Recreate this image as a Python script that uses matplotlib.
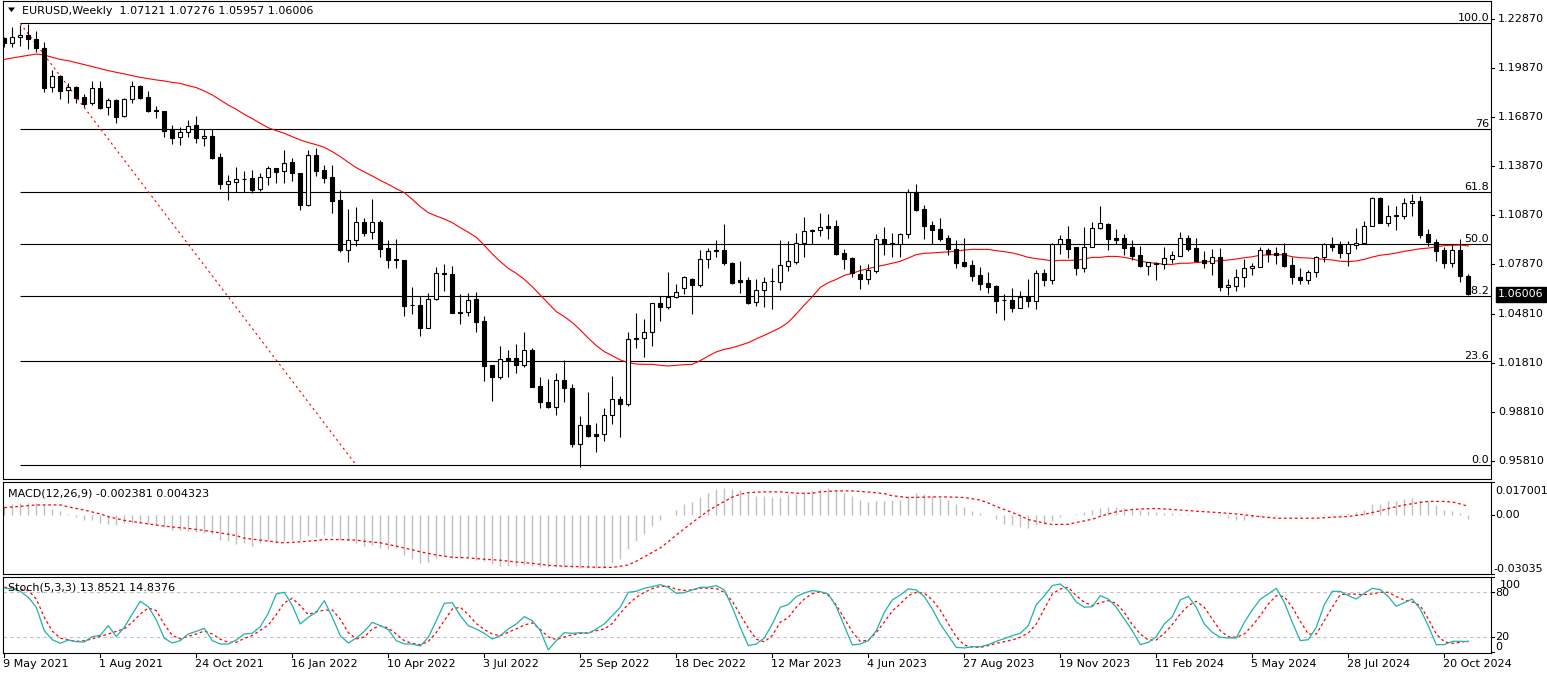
import matplotlib
matplotlib.use("Agg")
import matplotlib.pyplot as plt
from matplotlib.patches import Rectangle, Polygon
from matplotlib.transforms import blended_transform_factory
import numpy as np

plt.rcParams['font.family'] = ['DejaVu Sans']
plt.rcParams['font.size'] = 8

# ---------------- data (weekly bars, 9 May 2021 .. 10 Nov 2024) ----------------
opens = [
    1.2174, 1.2144, 1.2178, 1.2191, 1.2164, 1.2109, 1.1871, 1.1939, 1.1852, 1.1871,
    1.1808, 1.1776, 1.1864, 1.1747, 1.1792, 1.1695, 1.1796, 1.1880, 1.1808, 1.1733,
    1.1722, 1.1612, 1.1563, 1.1594, 1.1639, 1.1557, 1.1571, 1.1442, 1.1275, 1.1291,
    1.1309, 1.1312, 1.1244, 1.1322, 1.1373, 1.1357, 1.1410, 1.1342, 1.1150, 1.1453,
    1.1363, 1.1318, 1.1179, 1.0870, 1.0932, 1.1042, 1.0981, 1.1044, 1.0882, 1.0817,
    1.0809, 1.0537, 1.0535, 1.0396, 1.0570, 1.0729, 1.0725, 1.0492, 1.0490, 1.0572,
    1.0437, 1.0167, 1.0096, 1.0208, 1.0208, 1.0169, 1.0259, 1.0038, 0.9938, 0.9907,
    1.0075, 1.0024, 0.9685, 0.9797, 0.9742, 0.9742, 0.9859, 0.9959, 0.9930, 1.0329,
    1.0331, 1.0367, 1.0545, 1.0521, 1.0582, 1.0637, 1.0692, 1.0658, 1.0820, 1.0866,
    1.0872, 1.0794, 1.0686, 1.0688, 1.0552, 1.0625, 1.0680, 1.0678, 1.0776, 1.0801,
    1.0913, 1.0991, 1.0993, 1.1017, 1.1019, 1.0854, 1.0822, 1.0725, 1.0696, 1.0746,
    1.0940, 1.0913, 1.0907, 1.0968, 1.1226, 1.1125, 1.1025, 1.0999, 1.0944, 1.0878,
    1.0799, 1.0778, 1.0717, 1.0668, 1.0652, 1.0568, 1.0566, 1.0519, 1.0586, 1.0562,
    1.0729, 1.0688, 1.0907, 1.0938, 1.0888, 1.0764, 1.0892, 1.1009, 1.1032, 1.0944,
    1.0944, 1.0890, 1.0839, 1.0776, 1.0793, 1.0784, 1.0819, 1.0837, 1.0944, 1.0882,
    1.0811, 1.0790, 1.0827, 1.0643, 1.0654, 1.0705, 1.0760, 1.0770, 1.0870, 1.0852,
    1.0852, 1.0778, 1.0705, 1.0686, 1.0735, 1.0827, 1.0907, 1.0903, 1.0852, 1.0905,
    1.0913, 1.1021, 1.1189, 1.1040, 1.1083, 1.1083, 1.1158, 1.1173, 1.0968, 1.0923,
    1.0872, 1.0793, 1.0872, 1.07121]
highs = [
    1.2181, 1.2242, 1.2252, 1.2258, 1.2215, 1.2146, 1.1976, 1.1945, 1.1894, 1.1879,
    1.1829, 1.1909, 1.1909, 1.1802, 1.1798, 1.1806, 1.1909, 1.1882, 1.1848, 1.1757,
    1.1724, 1.1639, 1.1625, 1.1670, 1.1695, 1.1612, 1.1612, 1.1465, 1.1332, 1.1379,
    1.1357, 1.1363, 1.1342, 1.1387, 1.1377, 1.1486, 1.1434, 1.1344, 1.1486, 1.1500,
    1.1393, 1.1393, 1.1240, 1.1122, 1.1134, 1.1068, 1.1185, 1.1056, 1.0934, 1.0938,
    1.0811, 1.0643, 1.0592, 1.0607, 1.0770, 1.0786, 1.0776, 1.0600, 1.0607, 1.0615,
    1.0470, 1.0169, 1.0284, 1.0259, 1.0296, 1.0369, 1.0273, 1.0096, 1.0081, 1.0120,
    1.0198, 1.0050, 0.9854, 1.0004, 0.9809, 0.9901, 1.0100, 0.9977, 1.0369, 1.0484,
    1.0449, 1.0550, 1.0592, 1.0737, 1.0664, 1.0713, 1.0703, 1.0872, 1.0887, 1.0934,
    1.1032, 1.0799, 1.0805, 1.0709, 1.0692, 1.0709, 1.0764, 1.0934, 1.0927, 1.0975,
    1.1075, 1.1001, 1.1098, 1.1093, 1.1056, 1.0876, 1.0831, 1.0780, 1.0786, 1.0971,
    1.1013, 1.0977, 1.0975, 1.1246, 1.1276, 1.1149, 1.1050, 1.1066, 1.0964, 1.0934,
    1.0946, 1.0811, 1.0766, 1.0735, 1.0658, 1.0600, 1.0639, 1.0621, 1.0694, 1.0750,
    1.0756, 1.0917, 1.0964, 1.1019, 1.0892, 1.1013, 1.1044, 1.1142, 1.1040, 1.1001,
    1.0968, 1.0934, 1.0897, 1.0801, 1.0801, 1.0890, 1.0866, 1.0983, 1.0964, 1.0944,
    1.0866, 1.0878, 1.0882, 1.0692, 1.0754, 1.0817, 1.0790, 1.0892, 1.0882, 1.0888,
    1.0913, 1.0827, 1.0760, 1.0750, 1.0837, 1.0913, 1.0950, 1.0930, 1.0930, 1.1005,
    1.1050, 1.1199, 1.1199, 1.1149, 1.1145, 1.1189, 1.1214, 1.1204, 1.1001, 1.0938,
    1.0888, 1.0903, 1.0938, 1.07276]
lows = [
    1.2119, 1.2119, 1.2125, 1.2103, 1.2089, 1.1843, 1.1843, 1.1798, 1.1776, 1.1772,
    1.1751, 1.1761, 1.1737, 1.1700, 1.1649, 1.1690, 1.1776, 1.1798, 1.1720, 1.1680,
    1.1563, 1.1521, 1.1516, 1.1568, 1.1530, 1.1512, 1.1433, 1.1248, 1.1179, 1.1226,
    1.1226, 1.1220, 1.1236, 1.1271, 1.1281, 1.1281, 1.1294, 1.1118, 1.1144, 1.1326,
    1.1281, 1.1101, 1.0862, 1.0801, 1.0899, 1.0960, 1.0940, 1.0831, 1.0760, 1.0760,
    1.0470, 1.0480, 1.0347, 1.0392, 1.0566, 1.0623, 1.0484, 1.0419, 1.0470, 1.0367,
    1.0071, 0.9948, 1.0079, 1.0096, 1.0120, 1.0157, 1.0030, 0.9901, 0.9903, 0.9862,
    0.9942, 0.9666, 0.9540, 0.9728, 0.9631, 0.9703, 0.9805, 0.9728, 0.9918, 1.0270,
    1.0218, 1.0282, 1.0439, 1.0509, 1.0576, 1.0603, 1.0480, 1.0648, 1.0764, 1.0831,
    1.0780, 1.0664, 1.0611, 1.0539, 1.0529, 1.0525, 1.0511, 1.0627, 1.0746, 1.0786,
    1.0831, 1.0909, 1.0958, 1.0940, 1.0842, 1.0758, 1.0705, 1.0633, 1.0664, 1.0733,
    1.0842, 1.0829, 1.0831, 1.0944, 1.1109, 1.0940, 1.0907, 1.0930, 1.0842, 1.0764,
    1.0770, 1.0682, 1.0627, 1.0611, 1.0488, 1.0443, 1.0494, 1.0515, 1.0521, 1.0511,
    1.0652, 1.0664, 1.0848, 1.0825, 1.0719, 1.0737, 1.0888, 1.1001, 1.0872, 1.0907,
    1.0842, 1.0813, 1.0770, 1.0719, 1.0688, 1.0756, 1.0790, 1.0835, 1.0866, 1.0805,
    1.0764, 1.0719, 1.0623, 1.0596, 1.0623, 1.0648, 1.0719, 1.0766, 1.0801, 1.0786,
    1.0766, 1.0664, 1.0664, 1.0664, 1.0709, 1.0801, 1.0866, 1.0821, 1.0776, 1.0878,
    1.0907, 1.1019, 1.1036, 1.1019, 1.0995, 1.1062, 1.1081, 1.0948, 1.0899, 1.0807,
    1.0760, 1.0766, 1.0678, 1.05957]
closes = [
    1.2144, 1.2178, 1.2193, 1.2164, 1.2109, 1.1868, 1.1938, 1.1850, 1.1871, 1.1806,
    1.1770, 1.1864, 1.1746, 1.1792, 1.1690, 1.1798, 1.1880, 1.1806, 1.1727, 1.1724,
    1.1604, 1.1561, 1.1594, 1.1635, 1.1557, 1.1571, 1.1438, 1.1275, 1.1293, 1.1305,
    1.1305, 1.1240, 1.1322, 1.1373, 1.1352, 1.1408, 1.1342, 1.1150, 1.1453, 1.1359,
    1.1316, 1.1175, 1.0874, 1.0934, 1.1042, 1.0979, 1.1042, 1.0880, 1.0811, 1.0809,
    1.0531, 1.0533, 1.0396, 1.0570, 1.0729, 1.0725, 1.0488, 1.0488, 1.0566, 1.0433,
    1.0163, 1.0096, 1.0202, 1.0198, 1.0169, 1.0259, 1.0034, 0.9938, 0.9907, 1.0075,
    1.0024, 0.9685, 0.9797, 0.9734, 0.9734, 0.9859, 0.9957, 0.9930, 1.0325, 1.0333,
    1.0367, 1.0545, 1.0521, 1.0586, 1.0613, 1.0707, 1.0660, 1.0820, 1.0864, 1.0874,
    1.0790, 1.0672, 1.0678, 1.0550, 1.0625, 1.0678, 1.0684, 1.0778, 1.0805, 1.0913,
    1.0989, 1.0997, 1.1011, 1.1009, 1.0848, 1.0817, 1.0729, 1.0694, 1.0750, 1.0940,
    1.0909, 1.0909, 1.0968, 1.1226, 1.1118, 1.1022, 1.0997, 1.0942, 1.0876, 1.0794,
    1.0776, 1.0715, 1.0664, 1.0648, 1.0562, 1.0564, 1.0519, 1.0586, 1.0562, 1.0729,
    1.0688, 1.0907, 1.0938, 1.0880, 1.0764, 1.0892, 1.1009, 1.1036, 1.0940, 1.0936,
    1.0886, 1.0835, 1.0774, 1.0797, 1.0788, 1.0821, 1.0839, 1.0944, 1.0880, 1.0807,
    1.0793, 1.0827, 1.0643, 1.0656, 1.0705, 1.0760, 1.0774, 1.0870, 1.0848, 1.0842,
    1.0774, 1.0705, 1.0686, 1.0735, 1.0827, 1.0907, 1.0892, 1.0852, 1.0907, 1.0915,
    1.1021, 1.1189, 1.1040, 1.1083, 1.1087, 1.1158, 1.1173, 1.0964, 1.0923, 1.0868,
    1.0793, 1.0872, 1.0713, 1.06006]

# moving average (red line), one value per bar
ma_vals = [
    1.2041, 1.2050, 1.2058, 1.2066, 1.2074, 1.2068, 1.2054, 1.2041, 1.2033, 1.2021,
    1.2009, 1.1997, 1.1984, 1.1972, 1.1962, 1.1952, 1.1941, 1.1931, 1.1923, 1.1915,
    1.1909, 1.1900, 1.1894, 1.1880, 1.1868, 1.1847, 1.1823, 1.1792, 1.1761, 1.1735,
    1.1704, 1.1678, 1.1649, 1.1622, 1.1604, 1.1588, 1.1567, 1.1547, 1.1531, 1.1518,
    1.1502, 1.1475, 1.1445, 1.1410, 1.1377, 1.1351, 1.1326, 1.1299, 1.1275, 1.1248,
    1.1224, 1.1183, 1.1138, 1.1101, 1.1081, 1.1062, 1.1040, 1.1009, 1.0981, 1.0950,
    1.0901, 1.0848, 1.0801, 1.0760, 1.0729, 1.0692, 1.0647, 1.0596, 1.0545, 1.0494,
    1.0464, 1.0427, 1.0382, 1.0331, 1.0286, 1.0249, 1.0224, 1.0198, 1.0181, 1.0173,
    1.0171, 1.0171, 1.0165, 1.0161, 1.0165, 1.0169, 1.0171, 1.0194, 1.0222, 1.0247,
    1.0263, 1.0273, 1.0288, 1.0304, 1.0327, 1.0349, 1.0372, 1.0396, 1.0429, 1.0480,
    1.0535, 1.0586, 1.0643, 1.0672, 1.0692, 1.0717, 1.0729, 1.0746, 1.0758, 1.0770,
    1.0780, 1.0791, 1.0803, 1.0823, 1.0844, 1.0852, 1.0854, 1.0858, 1.0860, 1.0866,
    1.0872, 1.0876, 1.0876, 1.0876, 1.0868, 1.0862, 1.0854, 1.0842, 1.0827, 1.0819,
    1.0813, 1.0805, 1.0809, 1.0809, 1.0809, 1.0817, 1.0827, 1.0827, 1.0833, 1.0833,
    1.0827, 1.0817, 1.0805, 1.0795, 1.0791, 1.0784, 1.0784, 1.0791, 1.0791, 1.0795,
    1.0799, 1.0803, 1.0807, 1.0811, 1.0817, 1.0825, 1.0831, 1.0840, 1.0842, 1.0844,
    1.0842, 1.0831, 1.0825, 1.0823, 1.0819, 1.0815, 1.0811, 1.0803, 1.0801, 1.0805,
    1.0815, 1.0829, 1.0840, 1.0846, 1.0854, 1.0864, 1.0872, 1.0880, 1.0884, 1.0892,
    1.0899, 1.0901, 1.0903, 1.0897]

# Fibonacci retracement
fib_levels = ["0.0", "23.6", "38.2", "50.0", "61.8", "76", "100.0"]
fib_prices = [0.9552, 1.0194, 1.0590, 1.0907, 1.1226, 1.1612, 1.2262]
fib_anchor_bars = [2, 44]
fib_anchor_prices = [1.2262, 0.9552]

# MACD(12,26,9)
macd_hist = [
    0.0043, 0.0053, 0.0060, 0.0060, 0.0060, 0.0050, 0.0027, 0.0019, 0.0002, -0.0010,
    -0.0026, -0.0029, -0.0041, -0.0050, -0.0055, -0.0043, -0.0041, -0.0041, -0.0050, -0.0055,
    -0.0062, -0.0076, -0.0079, -0.0084, -0.0086, -0.0093, -0.0101, -0.0127, -0.0136, -0.0148,
    -0.0144, -0.0161, -0.0144, -0.0136, -0.0146, -0.0136, -0.0130, -0.0130, -0.0110, -0.0115,
    -0.0105, -0.0110, -0.0127, -0.0136, -0.0144, -0.0161, -0.0153, -0.0170, -0.0178, -0.0170,
    -0.0208, -0.0225, -0.0247, -0.0242, -0.0221, -0.0213, -0.0221, -0.0221, -0.0216, -0.0230,
    -0.0235, -0.0252, -0.0261, -0.0261, -0.0261, -0.0259, -0.0264, -0.0266, -0.0269, -0.0269,
    -0.0269, -0.0273, -0.0275, -0.0275, -0.0275, -0.0273, -0.0247, -0.0225, -0.0178, -0.0136,
    -0.0101, -0.0060, -0.0029, -0.0003, 0.0022, 0.0053, 0.0067, 0.0093, 0.0113, 0.0134,
    0.0139, 0.0130, 0.0125, 0.0113, 0.0098, 0.0098, 0.0093, 0.0093, 0.0105, 0.0108,
    0.0113, 0.0129, 0.0134, 0.0139, 0.0129, 0.0113, 0.0098, 0.0077, 0.0067, 0.0072,
    0.0072, 0.0074, 0.0077, 0.0098, 0.0110, 0.0105, 0.0096, 0.0088, 0.0077, 0.0057,
    0.0041, 0.0021, 0.0007, 0.0001, -0.0024, -0.0045, -0.0054, -0.0063, -0.0068, -0.0054,
    -0.0045, -0.0032, -0.0014, -0.0002, 0.0005, 0.0013, 0.0023, 0.0036, 0.0041, 0.0041,
    0.0036, 0.0030, 0.0023, 0.0018, 0.0014, 0.0011, 0.0007, 0.0004, 0.0002, 0.0000,
    0.0000, 0.0000, -0.0005, -0.0018, -0.0027, -0.0027, -0.0018, -0.0011, -0.0007, -0.0005,
    -0.0004, -0.0004, -0.0005, -0.0004, -0.0002, 0.0002, 0.0005, 0.0005, 0.0011, 0.0013,
    0.0023, 0.0054, 0.0057, 0.0068, 0.0072, 0.0079, 0.0086, 0.0075, 0.0072, 0.0050,
    0.0023, 0.0018, 0.0009, -0.002381]
macd_sig_bars = [
    0, 2, 4, 7, 8, 10, 12, 13, 15, 17, 19, 21, 23, 25, 27, 29, 30, 32, 34, 35,
    37, 39, 40, 42, 44, 45, 47, 49, 51, 52, 54, 56, 58, 60, 62, 64, 66, 68, 70, 72,
    74, 76, 78, 79, 80, 81, 82, 83, 84, 85, 86, 87, 88, 89, 90, 91, 92, 93, 95, 97,
    99, 101, 102, 104, 106, 108, 110, 111, 113, 116, 118, 120, 122, 123, 124, 126, 127, 128, 130, 131,
    133, 134, 136, 137, 139, 141, 144, 146, 149, 151, 154, 157, 159, 162, 164, 166, 168, 170, 172, 173,
    175, 177, 178, 180, 181, 182, 183]
macd_sig_vals = [
    0.0036, 0.0043, 0.0050, 0.0050, 0.0040, 0.0024, 0.0004, -0.0010, -0.0029, -0.0041,
    -0.0053, -0.0063, -0.0070, -0.0081, -0.0093, -0.0107, -0.0120, -0.0130, -0.0140, -0.0144,
    -0.0139, -0.0132, -0.0127, -0.0127, -0.0130, -0.0136, -0.0144, -0.0161, -0.0180, -0.0190,
    -0.0206, -0.0218, -0.0221, -0.0228, -0.0233, -0.0242, -0.0249, -0.0259, -0.0264, -0.0266,
    -0.0269, -0.0270, -0.0257, -0.0238, -0.0215, -0.0193, -0.0170, -0.0138, -0.0104, -0.0072,
    -0.0040, -0.0010, 0.0020, 0.0045, 0.0068, 0.0090, 0.0105, 0.0113, 0.0117, 0.0117,
    0.0110, 0.0110, 0.0117, 0.0122, 0.0122, 0.0116, 0.0108, 0.0097, 0.0088, 0.0091,
    0.0091, 0.0088, 0.0075, 0.0060, 0.0042, 0.0011, -0.0005, -0.0025, -0.0043, -0.0050,
    -0.0049, -0.0040, -0.0023, -0.0008, 0.0015, 0.0027, 0.0032, 0.0027, 0.0018, 0.0013,
    0.0004, -0.0010, -0.0018, -0.0018, -0.0018, -0.0013, -0.0009, 0.0002, 0.0020, 0.0032,
    0.0050, 0.0063, 0.0068, 0.0068, 0.0065, 0.0055, 0.004323]

# Stochastic(5,3,3)
stoch_main = [
    85.8, 84.5, 81.4, 73.3, 59.9, 28.5, 16.4, 11.5, 16.0, 13.7,
    13.3, 20.5, 22.3, 35.2, 20.5, 33.0, 50.9, 67.9, 60.8, 42.9,
    18.3, 12.0, 15.1, 24.1, 27.6, 31.7, 15.1, 10.6, 10.6, 16.0,
    24.1, 25.0, 33.9, 51.8, 77.8, 80.0, 62.2, 37.5, 46.5, 53.2,
    68.8, 46.5, 21.8, 12.0, 18.7, 27.6, 39.7, 35.2, 29.9, 15.1,
    10.6, 10.6, 7.9, 19.6, 42.0, 65.3, 66.1, 48.7, 35.2, 30.7,
    24.9, 17.3, 21.8, 30.8, 37.5, 47.3, 42.0, 28.5, 2.6, 15.1,
    25.8, 24.9, 25.8, 24.9, 30.8, 37.5, 48.7, 59.9, 80.0, 81.4,
    85.4, 87.6, 90.3, 86.7, 78.7, 79.6, 83.2, 86.7, 86.7, 89.0,
    83.2, 59.9, 33.0, 8.4, 10.6, 18.7, 37.5, 59.9, 63.5, 74.2,
    79.1, 82.3, 80.9, 77.8, 60.8, 35.2, 9.3, 10.6, 15.1, 28.5,
    53.1, 69.7, 76.4, 84.5, 83.2, 74.2, 57.6, 37.5, 21.8, 6.1,
    5.3, 7.0, 7.0, 9.7, 14.2, 17.8, 21.8, 24.9, 35.2, 63.4,
    75.1, 89.0, 91.2, 82.2, 67.0, 59.9, 60.7, 75.5, 71.0, 59.9,
    44.2, 28.5, 9.7, 12.8, 20.4, 37.5, 47.3, 69.7, 74.6, 59.9,
    37.5, 26.3, 19.6, 18.7, 18.7, 39.7, 56.3, 70.6, 77.8, 85.4,
    66.6, 39.7, 15.1, 16.4, 33.0, 63.4, 81.3, 81.3, 75.5, 71.0,
    78.7, 85.4, 83.6, 74.2, 61.2, 66.1, 71.0, 57.2, 35.2, 9.7,
    9.7, 14.2, 14.2, 13.8521]
stoch_signal = [
    86.7, 85.8, 84.0, 82.3, 71.0, 46.4, 28.0, 18.5, 16.0, 14.2,
    15.0, 17.5, 21.0, 24.0, 27.6, 31.0, 40.0, 50.9, 59.0, 55.4,
    37.0, 22.0, 17.5, 21.0, 24.0, 28.0, 24.0, 17.0, 12.9, 12.9,
    18.0, 22.0, 29.0, 36.0, 50.0, 66.0, 72.0, 62.1, 50.0, 54.0,
    56.0, 56.3, 44.0, 26.0, 17.5, 20.0, 30.8, 35.2, 32.0, 24.0,
    15.0, 11.5, 9.5, 14.0, 26.0, 42.0, 57.6, 60.0, 50.0, 38.0,
    30.0, 24.0, 21.8, 26.3, 31.0, 36.0, 39.0, 30.0, 20.0, 16.5,
    20.0, 23.0, 24.9, 25.8, 28.5, 30.8, 38.0, 52.0, 64.0, 73.3,
    80.0, 85.0, 88.0, 88.0, 84.0, 82.5, 83.2, 85.4, 85.6, 85.0,
    80.0, 68.0, 50.0, 32.0, 17.0, 13.5, 22.0, 40.0, 46.0, 59.9,
    71.0, 78.0, 81.0, 76.0, 63.0, 45.0, 27.0, 14.0, 16.0, 26.0,
    40.0, 55.0, 64.4, 75.5, 80.0, 78.7, 70.0, 56.0, 38.0, 20.0,
    9.0, 6.5, 6.1, 8.4, 11.5, 13.7, 16.0, 19.6, 25.4, 37.5,
    57.6, 77.8, 84.5, 86.7, 75.5, 66.6, 62.1, 66.1, 68.8, 65.2,
    53.1, 36.6, 24.0, 16.0, 16.0, 24.9, 36.6, 50.9, 62.1, 67.9,
    59.9, 44.2, 28.5, 20.4, 19.6, 24.0, 35.2, 48.7, 64.3, 75.5,
    74.2, 59.9, 41.0, 24.0, 24.0, 42.0, 59.9, 76.9, 77.8, 77.3,
    76.9, 77.8, 80.0, 80.0, 74.2, 69.7, 67.0, 62.1, 44.2, 24.0,
    13.7, 11.5, 12.8, 14.8376]
stoch_levels = [20, 80]

# axis labels
date_tick_bars = [0, 12, 24, 36, 48, 60, 72, 84, 96, 108, 120, 132, 144, 156, 168, 180]
date_tick_labels = ["9 May 2021", "1 Aug 2021", "24 Oct 2021", "16 Jan 2022", "10 Apr 2022",
                    "3 Jul 2022", "25 Sep 2022", "18 Dec 2022", "12 Mar 2023", "4 Jun 2023",
                    "27 Aug 2023", "19 Nov 2023", "11 Feb 2024", "5 May 2024", "28 Jul 2024",
                    "20 Oct 2024"]
price_ticks = [1.22870, 1.19870, 1.16870, 1.13870, 1.10870, 1.07870, 1.04810, 1.01810, 0.98810, 0.95810]
macd_axis_labels = ["0.017001", "0.00", "-0.03035"]
macd_axis_values = [0.017001, 0.0, -0.03035]
last_price = 1.06006
title_text = "EURUSD,Weekly  1.07121 1.07276 1.05957 1.06006"
macd_text = "MACD(12,26,9) -0.002381 0.004323"
stoch_text = "Stoch(5,3,3) 13.8521 14.8376"

# ---------------- layout ----------------
W, H = 1547, 676
fig = plt.figure(figsize=(W / 100, H / 100), dpi=100)
fig.patch.set_facecolor("white")


def rect(l, t, r, b):
    return [l / W, 1 - b / H, (r - l) / W, (b - t) / H]


def fx(x):
    return x / W


def fy(y):
    return 1 - y / H


XMIN, XMAX = -0.1625, 185.84
SP = 0.8

ax = fig.add_axes(rect(3, 0.5, 1491, 479))
axm = fig.add_axes(rect(3, 481.5, 1491, 574))
axs = fig.add_axes(rect(3, 576.7, 1491, 653.3))
for a in (ax, axm, axs):
    a.set_xlim(XMIN, XMAX)
    a.set_xticks([])
    a.set_yticks([])
    a.set_facecolor("white")
    for s in a.spines.values():
        s.set_linewidth(SP)
        s.set_color("black")

ax.set_ylim(0.94678, 1.24023)
axm.set_ylim(-0.03035, 0.017001)
axs.set_ylim(-1.88, 100.94)

bars = np.arange(len(closes))

# ---- main panel ----
ax.hlines(fib_prices, fib_anchor_bars[0], XMAX, colors="black", linewidth=0.8, zorder=1)
ax.plot(fib_anchor_bars, fib_anchor_prices, color="red", linewidth=0.8,
        linestyle=(0, (2, 3)), zorder=2)
for lab, p in zip(fib_levels, fib_prices):
    ax.annotate(lab, xy=(1, p), xycoords=("axes fraction", "data"), xytext=(-2, 2),
                textcoords="offset pixels", ha="right", va="baseline", fontsize=8,
                color="black", zorder=3)

# MA
ax.plot(bars, ma_vals, color="red", linewidth=0.8, zorder=3)

# candles
bw = 0.55
ax.vlines(bars, lows, highs, colors="black", linewidth=0.8, zorder=4)
for i in range(len(closes)):
    o, c = opens[i], closes[i]
    lo, hi = min(o, c), max(o, c)
    h = max(hi - lo, 0.00001)
    fc = "white" if c >= o else "black"
    ax.add_patch(Rectangle((i - bw / 2, lo), bw, h, facecolor=fc, edgecolor="black",
                           linewidth=0.8, zorder=5))

# price axis labels & ticks
tr = blended_transform_factory(ax.transAxes, ax.transData)
for p in price_ticks:
    ax.plot([1, 1 + 3 / 1488], [p, p], transform=tr, color="black", linewidth=0.8,
            clip_on=False)
    ax.annotate(f"{p:.5f}", xy=(1, p), xycoords=("axes fraction", "data"), xytext=(7, 0),
                textcoords="offset pixels", ha="left", va="center", fontsize=8,
                annotation_clip=False)

# current price box
ax.annotate(f"{last_price:.5f}", xy=(1, last_price), xycoords=("axes fraction", "data"),
            xytext=(7, 0), textcoords="offset pixels", ha="left", va="center", fontsize=8,
            color="white", annotation_clip=False, zorder=10,
            bbox=dict(boxstyle="square,pad=0.2", facecolor="black", edgecolor="black"))

# title
fig.add_artist(Polygon([[fx(8), fy(7.5)], [fx(15), fy(7.5)], [fx(11.5), fy(12)]],
                       closed=True, facecolor="black", edgecolor="none",
                       transform=fig.transFigure))
fig.text(fx(21.5), fy(10.5), title_text, ha="left", va="center", fontsize=8, color="black")

# ---- MACD panel ----
axm.vlines(bars, 0, macd_hist, colors="#c0c0c0", linewidth=1.0, zorder=2)
axm.plot(macd_sig_bars, macd_sig_vals, color="red", linewidth=0.9,
         linestyle=(0, (2.2, 2.2)), zorder=3)
fig.text(fx(8), fy(493.5), macd_text, ha="left", va="center", fontsize=8, color="black")
macd_label_y = [491, 515.5, 569]
macd_label_x = [1495, 1495.5, 1493]
for lab, yy, xx in zip(macd_axis_labels, macd_label_y, macd_label_x):
    fig.text(fx(xx), fy(yy), lab, ha="left", va="center", fontsize=8, color="black")
trm = blended_transform_factory(axm.transAxes, axm.transData)
for v in macd_axis_values:
    axm.plot([1, 1 + 3 / 1488], [v, v], transform=trm, color="black", linewidth=0.8,
             clip_on=False)

# ---- Stochastic panel ----
axs.hlines(stoch_levels, XMIN, XMAX, colors="#c0c0c0", linewidth=0.8,
           linestyles=[(0, (3, 3))], zorder=1)
axs.plot(bars, stoch_main, color="#20b2aa", linewidth=0.9, zorder=3)
axs.plot(bars, stoch_signal, color="red", linewidth=0.9, linestyle=(0, (2.2, 2.2)), zorder=2)
fig.text(fx(8), fy(588), stoch_text, ha="left", va="center", fontsize=8, color="black")
trs = blended_transform_factory(axs.transAxes, axs.transData)
for v in [100, 80, 20, 0]:
    axs.plot([1, 1 + 3 / 1488], [v, v], transform=trs, color="black", linewidth=0.8,
             clip_on=False)
for lab, xx, yy in [("100", 1500, 585), ("80", 1495, 592.5), ("20", 1495, 637.5), ("0", 1495, 647.5)]:
    fig.text(fx(xx), fy(yy), lab, ha="left", va="center", fontsize=8, color="black")

# date axis
trd = blended_transform_factory(axs.transData, axs.transAxes)
for b, lab in zip(date_tick_bars, date_tick_labels):
    axs.plot([b, b], [0, -4 / 76.6], transform=trd, color="black", linewidth=0.8,
             clip_on=False)
    axs.annotate(lab, xy=(b, 0), xycoords=("data", "axes fraction"), xytext=(-1, -11),
                 textcoords="offset pixels", ha="left", va="center", fontsize=8,
                 annotation_clip=False)

fig.savefig("out.png", dpi=100, facecolor="white")
